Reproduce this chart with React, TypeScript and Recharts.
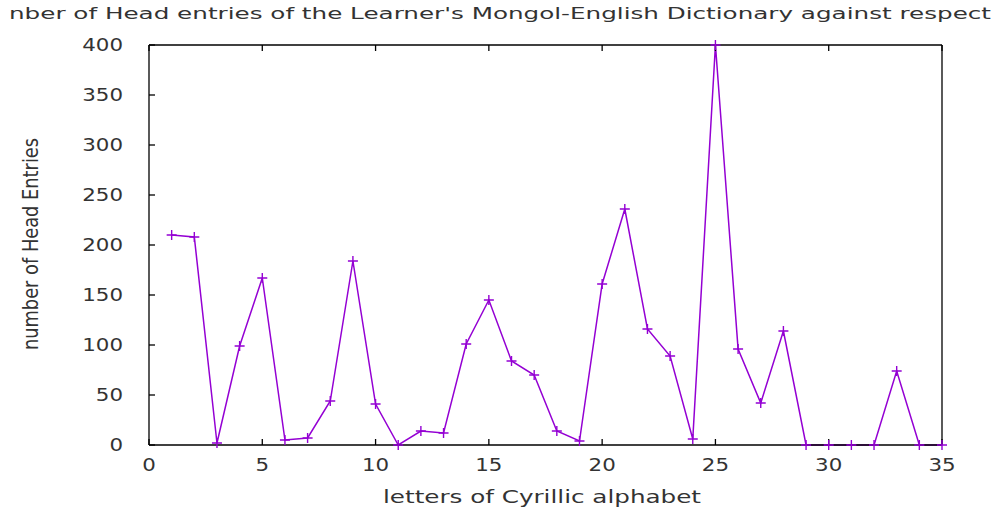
import React from "react";
import { LineChart, Line, XAxis, YAxis } from "recharts";

const letters: number[] = [1,2,3,4,5,6,7,8,9,10,11,12,13,14,15,16,17,18,19,20,21,22,23,24,25,26,27,28,29,30,31,32,33,34,35];
const headEntries: number[] = [210,208,2,99,167,5,7,44,184,41,0,14,12,101,145,84,70,14,4,161,236,116,89,6,400,96,42,114,0,0,0,0,74,0,0];
const xTicks: number[] = [0,5,10,15,20,25,30,35];
const yTicks: number[] = [0,50,100,150,200,250,300,350,400];

const titleText = "nber of Head entries of the Learner's Mongol-English Dictionary against respect";
const xLabel = "letters of Cyrillic alphabet";
const yLabel = "number of Head Entries";

const data = letters.map((l, i) => ({ letter: l, entries: headEntries[i] }));

const COLOR = "#9400D3";
const TEXT = "#333333";
const FONT = "'DejaVu Sans', sans-serif";

const YTick = (props: any) => {
  const { x, y, payload } = props;
  const s = String(payload.value);
  return (
    <text x={x} y={y} dy="0.36em" textAnchor="end" fontSize={18} fontFamily={FONT} fill={TEXT}
      textLength={s.length * 13.6} lengthAdjust="spacingAndGlyphs">{s}</text>
  );
};

const XTick = (props: any) => {
  const { x, y, payload } = props;
  const s = String(payload.value);
  return (
    <text x={x} y={y} dy="0.71em" textAnchor="middle" fontSize={18} fontFamily={FONT} fill={TEXT}
      textLength={s.length * 13.6} lengthAdjust="spacingAndGlyphs">{s}</text>
  );
};

const EmptyTick = () => <g />;

const PlusDot = (props: any) => {
  const { cx, cy } = props;
  if (cx == null || cy == null) return <g />;
  return (
    <path d={`M${cx - 5},${cy}H${cx + 5}M${cx},${cy - 5}V${cy + 5}`} stroke={COLOR} strokeWidth={1.4} fill="none" />
  );
};

export default function App() {
  const axisLine = { stroke: "#000", strokeWidth: 1.3 };
  const tickLine = { stroke: "#000", strokeWidth: 1.3 };
  return (
    <div style={{ position: "absolute", left: 0, top: 0, width: 999, height: 510, background: "#fff" }}>
      <LineChart width={999} height={510} data={data} margin={{ top: 35, right: 47, bottom: 35, left: 89 }}>
        <XAxis xAxisId="bottom" dataKey="letter" type="number" domain={[0, 35]} ticks={xTicks}
          height={30} tickSize={-6} tickMargin={19} axisLine={axisLine} tickLine={tickLine} tick={<XTick />} interval={0} />
        <XAxis xAxisId="top" orientation="top" dataKey="letter" type="number" domain={[0, 35]} ticks={xTicks}
          height={10} tickSize={-6} axisLine={axisLine} tickLine={tickLine} tick={<EmptyTick />} interval={0} />
        <YAxis yAxisId="left" type="number" domain={[0, 400]} ticks={yTicks} width={60}
          tickSize={-6} tickMargin={32} axisLine={axisLine} tickLine={tickLine} tick={<YTick />} interval={0} />
        <YAxis yAxisId="right" orientation="right" type="number" domain={[0, 400]} ticks={yTicks} width={10}
          tickSize={-6} axisLine={axisLine} tickLine={tickLine} tick={<EmptyTick />} interval={0} />
        <Line xAxisId="bottom" yAxisId="left" type="linear" dataKey="entries" stroke={COLOR} strokeWidth={1.5}
          dot={<PlusDot />} activeDot={false} isAnimationActive={false} />
      </LineChart>
      <svg width={999} height={510} style={{ position: "absolute", left: 0, top: 0, pointerEvents: "none" }}>
        <text x={9} y={18.5} fontSize={15} fontFamily={FONT} fill={TEXT} textLength={982} lengthAdjust="spacingAndGlyphs">{titleText}</text>
        <text x={542} y={503} textAnchor="middle" fontSize={17} fontFamily={FONT} fill={TEXT} textLength={318} lengthAdjust="spacingAndGlyphs">{xLabel}</text>
        <text transform="translate(38.3,244) scale(1.2,1) rotate(-90)" x={0} y={0} textAnchor="middle" fontSize={17.8} fontFamily={FONT} fill={TEXT}>{yLabel}</text>
      </svg>
    </div>
  );
}
